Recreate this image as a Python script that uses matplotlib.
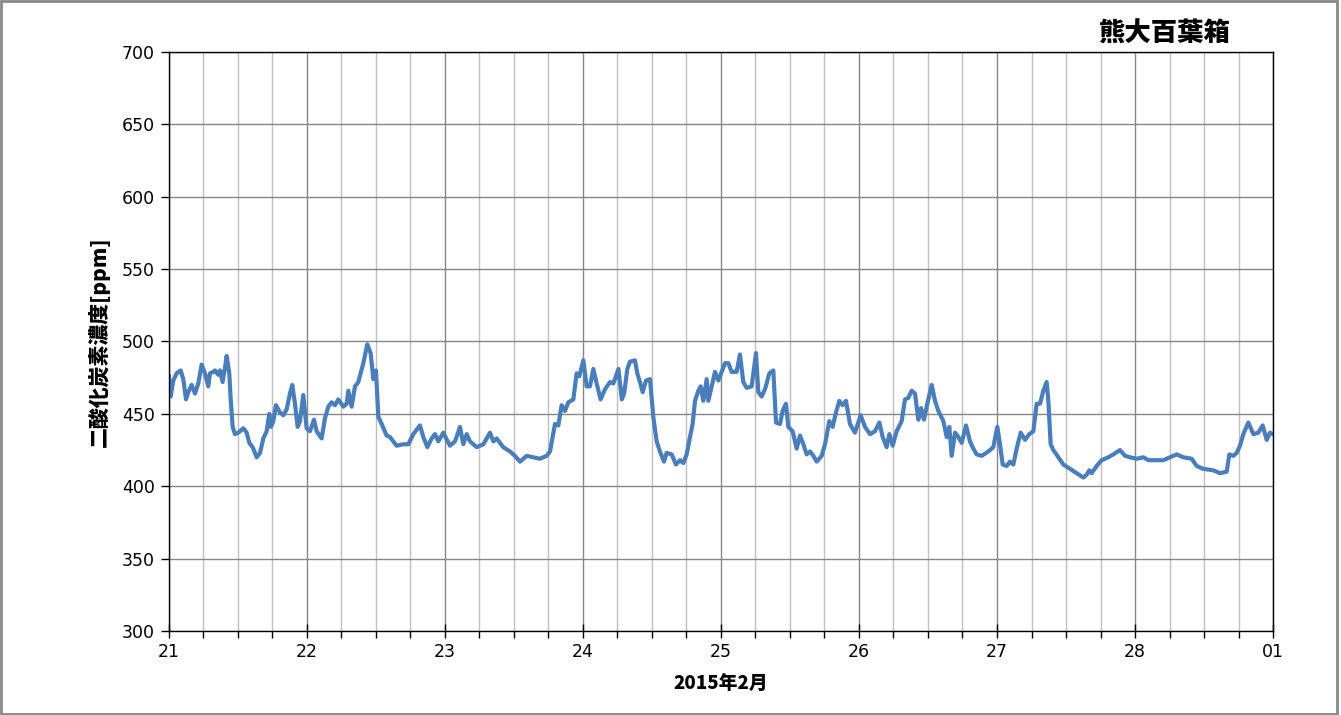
import matplotlib
matplotlib.use("Agg")
import matplotlib.pyplot as plt
import matplotlib.dates as mdates
from matplotlib.patches import Rectangle
import pandas as pd

plt.rcParams['font.family'] = ['DejaVu Sans', 'Noto Sans CJK JP']
jp = ['Noto Sans CJK JP', 'DejaVu Sans']

# hours since 2015-02-21 00:00 and CO2 readings [ppm]
hours = [0.0, 0.3, 0.75, 1.33, 2.03, 2.49, 2.96, 3.36, 3.94, 4.52, 5.10, 5.68,
         6.26, 6.84, 7.13, 7.71, 8.0, 8.58, 8.87, 9.33, 9.74, 10.03, 10.49,
         10.72, 11.07, 11.48, 12.06, 12.93, 13.51, 13.97, 14.55, 15.25, 15.83,
         16.41, 16.99, 17.45, 17.74, 18.14, 18.61, 19.30, 19.88, 20.46, 21.04,
         21.45, 21.91, 22.38, 22.78, 23.36, 23.94, 24.52, 25.22, 25.68, 26.55,
         27.13, 27.71, 28.29, 28.87, 29.45, 30.32, 30.90, 31.19, 31.77, 32.35,
         32.93, 33.80, 34.49, 35.07, 35.54, 36.0, 36.41, 36.99, 37.86, 38.43,
         39.59, 40.75, 41.62, 42.49, 43.65, 44.23, 44.93, 45.68, 46.26, 46.84,
         47.71, 48.87, 49.74, 50.61, 51.19, 51.77, 52.35, 53.51, 54.67, 55.25,
         55.83, 56.41, 56.99, 58.14, 59.30, 60.17, 61.04, 62.20, 63.36, 64.52,
         65.68, 66.26, 67.13, 67.71, 68.29, 68.87, 69.45, 70.32, 70.90, 71.36,
         72.06, 72.64, 73.22, 73.80, 74.38, 75.07, 75.83, 76.70,
         77.28, 78.17, 78.75, 79.16, 79.71, 80.17, 81.04, 81.45, 81.91, 82.38,
         82.96, 83.65, 84.23, 84.81, 85.39, 86.09, 86.55, 87.42, 88.17, 88.87,
         89.45, 90.03, 90.61, 91.07, 91.48, 92.06, 92.46, 92.93, 93.51, 93.80,
         94.38, 94.96, 95.54, 96.12, 96.70, 97.28, 97.86, 98.72, 99.30, 99.88,
         100.46, 101.33, 102.09, 102.49, 103.07, 103.65, 104.41, 105.10, 105.57,
         106.26, 106.72, 107.30, 107.71, 108.46, 109.16, 109.74, 110.32, 110.90,
         111.48, 112.06, 112.64, 113.51, 114.09, 114.84, 115.42, 116.0, 116.58,
         117.16, 117.74, 118.43, 119.30, 120.29, 121.04, 121.91, 122.78, 123.54,
         124.12, 124.81, 125.28, 125.86, 126.55, 127.42, 128.0, 128.58, 129.16,
         129.74, 130.32, 130.78, 131.30, 131.88, 132.64, 133.22, 133.80, 134.67,
         135.25, 135.71, 136.12, 136.70, 137.28, 137.86, 138.61, 139.30, 139.88,
         140.46, 141.33, 142.49,
         143.36, 144.06, 144.52, 144.99, 145.68, 146.26, 146.84, 147.42, 148.12,
         148.87, 149.62, 150.32, 150.90, 151.48, 152.06, 152.64, 152.93, 153.33,
         153.80, 154.67, 155.54, 156.70, 157.86, 159.01, 159.59, 160.06, 160.46,
         161.33, 162.20, 163.36, 164.23, 165.39, 166.26, 167.13, 168.29, 169.45,
         170.32, 171.77, 172.93, 174.09, 175.25, 176.41, 177.86, 178.72, 179.88,
         181.62, 182.78, 183.94, 184.41, 185.10, 185.68, 186.26, 186.84, 187.71,
         188.58, 189.45, 190.20, 190.90, 191.48, 192.0]
co2 = [476, 462, 473, 478, 480, 474, 460, 465, 470, 464, 471, 484,
       478, 469, 478, 479, 480, 477, 480, 472, 482, 490, 478,
       461, 441, 436, 437, 440, 437, 430, 427, 420, 423,
       433, 438, 450, 441, 445, 456, 451, 449, 453, 464,
       470, 457, 441, 445, 463, 440, 438, 446, 438, 433,
       447, 455, 458, 456, 460, 455, 457, 466, 455, 469,
       472, 485, 498, 492, 474, 480, 448, 443, 435, 434,
       428, 429, 429, 436, 442, 434, 427, 433, 436, 431,
       437, 428, 431, 441, 429, 436, 431, 427, 429, 433,
       437, 431, 433, 427, 424, 421, 417, 421, 420, 419,
       421, 424, 443, 442, 456, 452, 458, 460, 478, 476,
       487, 469, 469, 481, 471, 460, 467, 472,
       471, 481, 460, 464, 481, 486, 487, 478, 472, 465,
       473, 474, 448, 431, 424, 417, 423, 422, 415, 418,
       416, 422, 434, 443, 459, 466, 469, 459, 474, 459,
       469, 479, 473, 479, 485, 485, 479, 479, 491, 472,
       468, 469, 492, 465, 462, 467, 478, 480, 444,
       443, 452, 457, 441, 438, 426, 435, 429, 422,
       424, 421, 417, 421, 429, 445, 441, 451, 459,
       456, 459, 443, 437, 449, 441, 436, 438, 444,
       434, 427, 436, 428, 438, 445, 460, 461, 466,
       464, 446, 454, 446, 457, 470, 459, 452, 445,
       434, 441, 421, 437, 434, 430, 442, 431, 426,
       422, 421, 424,
       427, 441, 429, 415, 414, 417, 415, 426, 437,
       432, 436, 438, 457, 457, 466, 472, 459, 429,
       425, 420, 415, 412, 409, 406, 408, 411, 409,
       414, 418, 420, 422, 425, 421, 420, 419, 420,
       418, 418, 418, 420, 422, 420, 419, 414, 412,
       411, 409, 410, 422, 421, 423, 428, 436, 444,
       436, 437, 442, 432, 437, 436]

start = pd.Timestamp("2015-02-21")
times = start + pd.to_timedelta(hours, unit="h")

fig = plt.figure(figsize=(13.41, 7.15), dpi=100)
ax = fig.add_axes([0.126, 0.1175, 0.8233, 0.8098])

ax.plot(times, co2, color="#4A7EBB", linewidth=3.0, solid_joinstyle="round")

ax.set_xlim(start, pd.Timestamp("2015-03-01"))
ax.set_ylim(300, 700)
ax.set_yticks(range(300, 701, 50))

ax.xaxis.set_major_locator(mdates.DayLocator())
ax.xaxis.set_minor_locator(mdates.HourLocator(byhour=[6, 12, 18]))
ax.xaxis.set_major_formatter(mdates.DateFormatter("%d"))

ax.grid(which="major", axis="x", color="#868686", linewidth=1)
ax.grid(which="minor", axis="x", color="#BFBFBF", linewidth=1)
ax.grid(which="major", axis="y", color="#868686", linewidth=1)

ax.tick_params(axis="x", which="major", direction="inout", length=10, width=1,
               labelsize=12.5, pad=4)
ax.tick_params(axis="x", which="minor", direction="out", length=5, width=1)
ax.tick_params(axis="y", direction="out", length=6, width=1, labelsize=12.5, pad=4)
for sp in ax.spines.values():
    sp.set_color("black")
    sp.set_linewidth(1)

ax.set_ylabel("二酸化炭素濃度[ppm]", family=jp, fontsize=15, fontweight="heavy",
              labelpad=9)
ax.set_xlabel("2015年2月", family=jp, fontsize=13.5, fontweight="heavy", labelpad=9)
fig.text(0.868, 0.953, "熊大百葉箱", family=jp, fontsize=19, fontweight="heavy",
         ha="center", va="center")

fig.patches.append(Rectangle((0.001, 0.002), 0.996, 0.996, transform=fig.transFigure,
                             fill=False, edgecolor="#888888", linewidth=2))

fig.savefig("out.png", dpi=100)
